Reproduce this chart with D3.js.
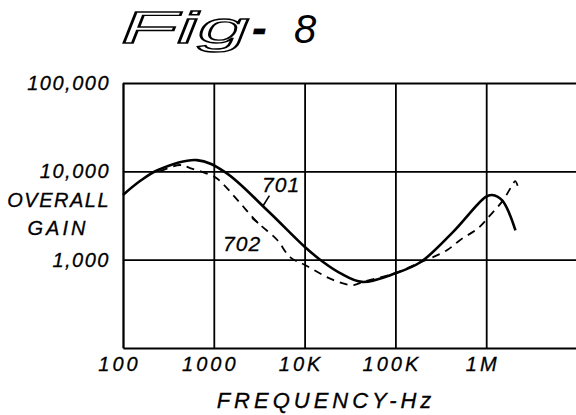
<!DOCTYPE html>
<html>
<head>
<meta charset="utf-8">
<script src="https://cdn.jsdelivr.net/npm/d3@7"></script>
<style>
  body { margin: 0; background: #fff; }
  svg { display: block; }
  text { font-family: "Liberation Sans", Arial, sans-serif; font-style: italic; fill: #000; stroke: #000; stroke-width: 0.3px; }
</style>
</head>
<body>
<svg id="chart" width="576" height="415"></svg>
<script>
// frequency axis (Hz) and gain axis
const xTicks = [100, 1000, 10000, 100000, 1000000]
const xTickLabels = ["100", "1000", "10K", "100K", "1M"]
const yTicks = [1000, 10000, 100000]
const yTickLabels = ["1,000", "10,000", "100,000"]

// curve 701 (solid)
const freq701 = [100, 154, 240, 650, 1330, 3900, 10000, 16000, 24600, 43000, 100000, 190000, 430000, 980000, 1160000, 1500000, 2100000]
const gain701 = [5400, 7760, 10300, 13400, 9800, 3600, 1400, 940, 705, 560, 700, 940, 2050, 5100, 5400, 4700, 2150]

// curve 702 (dashed)
const freq702 = [256, 425, 547, 1030, 1265, 1950, 3000, 5000, 6900, 10100, 20600, 34200, 43000, 100000, 187000, 260000, 372000, 517000, 817000, 1110000, 1540000, 1940000, 2090000, 2310000]
const gain702 = [10000, 11800, 10900, 8600, 7180, 4380, 2670, 1670, 1070, 870, 590, 515, 557, 705, 930, 1070, 1285, 1670, 2280, 3200, 4730, 7000, 7760, 5980]

const plotLeft = 123, plotRight = 577, plotTop = 83, plotBottom = 348

const svg = d3.select("#chart")

const x = d3.scaleLog().domain([100, 1e7]).range([plotLeft, plotRight])
const y = d3.scaleLog().domain([100, 1e5]).range([plotBottom, plotTop])

// title
const title = svg.append("g")
title.append("text")
    .attr("x", 121).attr("y", 43)
    .attr("font-size", 44)
    .attr("textLength", 128)
    .attr("lengthAdjust", "spacingAndGlyphs")
    .style("fill", "#fff")
    .style("stroke", "#000")
    .style("stroke-width", 1.4)
    .text("Fig")
title.append("text")
    .attr("x", 252).attr("y", 43)
    .attr("font-size", 44)
    .style("font-weight", "bold")
    .text("-")
title.append("text")
    .attr("x", 294).attr("y", 43)
    .attr("font-size", 40)
    .style("stroke", "none")
    .text("8")

// x axis with vertical grid lines
const xAxis = d3.axisBottom(x)
    .tickValues(xTicks)
    .tickSize(-(plotBottom - plotTop))
    .tickSizeOuter(0)
    .tickPadding(9)
    .tickFormat((d, i) => xTickLabels[i])

const gx = svg.append("g")
    .attr("transform", `translate(0,${plotBottom})`)
    .call(xAxis)
gx.selectAll("line, path").attr("stroke", "#000").attr("stroke-width", 1.8)
gx.selectAll("text")
    .attr("font-size", 20)
    .attr("letter-spacing", 3)
    .attr("dx", -4)
    .style("font-family", "'Liberation Sans', Arial, sans-serif")

// y axis with horizontal grid lines
const yAxis = d3.axisLeft(y)
    .tickValues(yTicks)
    .tickSize(-(plotRight - plotLeft))
    .tickSizeOuter(0)
    .tickPadding(13)
    .tickFormat((d, i) => yTickLabels[i])

const gy = svg.append("g")
    .attr("transform", `translate(${plotLeft},0)`)
    .call(yAxis)
gy.selectAll("line, path").attr("stroke", "#000").attr("stroke-width", 1.8)
gy.selectAll("text")
    .attr("font-size", 20)
    .attr("letter-spacing", 1.5)
    .style("font-family", "'Liberation Sans', Arial, sans-serif")

// axis titles
svg.append("text")
    .attr("x", 110).attr("y", 207)
    .attr("text-anchor", "end")
    .attr("font-size", 20)
    .attr("letter-spacing", 1.5)
    .text("OVERALL")
svg.append("text")
    .attr("x", 58).attr("y", 235)
    .attr("text-anchor", "middle")
    .attr("font-size", 20)
    .attr("letter-spacing", 3)
    .text("GAIN")
svg.append("text")
    .attr("x", 326).attr("y", 408)
    .attr("text-anchor", "middle")
    .attr("font-size", 22)
    .attr("letter-spacing", 4)
    .text("FREQUENCY-Hz")

// curves
const line = d3.line()
    .x(d => x(d[0]))
    .y(d => y(d[1]))
    .curve(d3.curveCatmullRom.alpha(0.5))

svg.append("path")
    .attr("d", line(d3.zip(freq701, gain701)))
    .attr("fill", "none")
    .attr("stroke", "#000")
    .attr("stroke-width", 2.6)

svg.append("path")
    .attr("d", line(d3.zip(freq702, gain702)))
    .attr("fill", "none")
    .attr("stroke", "#000")
    .attr("stroke-width", 1.8)
    .attr("stroke-dasharray", "8,6")

// reference numerals with leaders
svg.append("text")
    .attr("x", x(3400)).attr("y", y(5800))
    .attr("font-size", 21)
    .attr("letter-spacing", 1)
    .text("701")
svg.append("line")
    .attr("x1", x(4100)).attr("y1", y(5300))
    .attr("x2", x(3450)).attr("y2", y(4000))
    .attr("stroke", "#000").attr("stroke-width", 1.6)

svg.append("text")
    .attr("x", x(1265)).attr("y", y(1250))
    .attr("font-size", 21)
    .attr("letter-spacing", 1)
    .text("702")
svg.append("line")
    .attr("x1", x(2640)).attr("y1", y(2960))
    .attr("x2", x(3080)).attr("y2", y(2590))
    .attr("stroke", "#000").attr("stroke-width", 1.6)
</script>
</body>
</html>
